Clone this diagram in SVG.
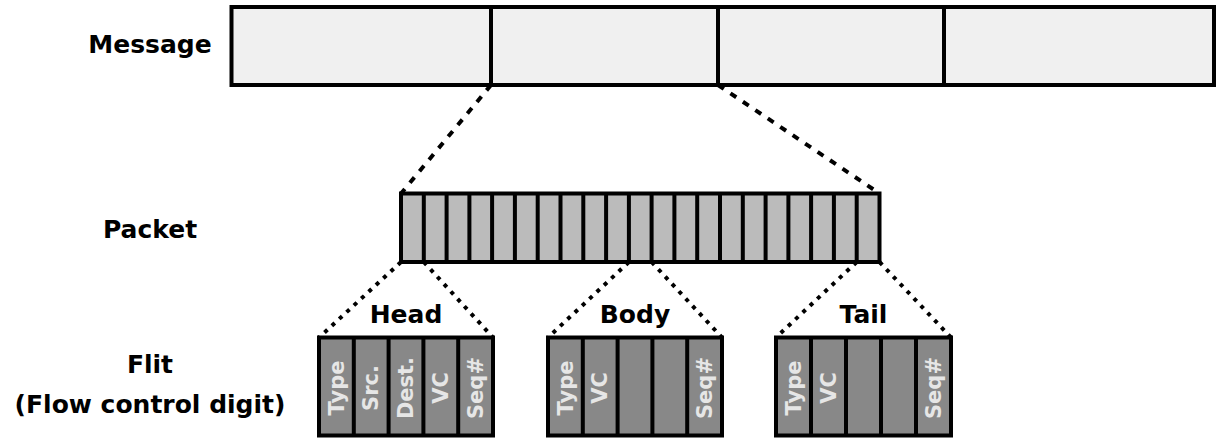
<svg xmlns="http://www.w3.org/2000/svg" width="1216" height="440" viewBox="0 0 1216 440">
<style>
.lbl{font-family:"DejaVu Sans",Verdana,sans-serif;font-weight:bold;font-size:25px;fill:#000;text-anchor:middle}
.ft{font-family:"DejaVu Sans",Verdana,sans-serif;font-weight:bold;font-size:21px;fill:#e6e6e6;text-anchor:middle}
.msg{fill:#f0f0f0;stroke:#000;stroke-width:4}
.pkt{fill:#bbbbbb;stroke:#000;stroke-width:4}
.flit{fill:#888888;stroke:#000;stroke-width:4}
.div{stroke:#000;stroke-width:4;fill:none}
.dash{stroke:#000;stroke-width:4;fill:none;stroke-dasharray:7 8}
.dot{stroke:#000;stroke-width:4;fill:none;stroke-dasharray:4 6}
</style>
<g id="labels">
<text class="lbl" x="150" y="53">Message</text>
<text class="lbl" x="150" y="238">Packet</text>
<text class="lbl" x="150" y="373">Flit</text>
<text class="lbl" x="150" y="413">(Flow control digit)</text>
</g>
<g id="message">
<rect class="msg" x="231.5" y="7" width="982.5" height="78"/>
<path class="div" d="M491 7V85M718 7V85M944 7V85"/>
</g>
<g id="packet">
<rect class="pkt" x="401" y="193.5" width="478.5" height="68.5"/>
<path class="div" d="M423.8 193.5V262M446.6 193.5V262M469.4 193.5V262M492.1 193.5V262M514.9 193.5V262M537.7 193.5V262M560.5 193.5V262M583.3 193.5V262M606.1 193.5V262M628.9 193.5V262M651.6 193.5V262M674.4 193.5V262M697.2 193.5V262M720 193.5V262M742.8 193.5V262M765.6 193.5V262M788.4 193.5V262M811.1 193.5V262M833.9 193.5V262M856.7 193.5V262"/>
</g>
<g id="connectors">
<path class="dash" d="M491 85L401 193.5"/>
<path class="dash" d="M718 85L879.5 193.5"/>
<path class="dot" d="M401 262L319 337.5"/>
<path class="dot" d="M423.8 262L493 337.5"/>
<path class="dot" d="M628.9 262L548 337.5"/>
<path class="dot" d="M651.6 262L722 337.5"/>
<path class="dot" d="M856.7 262L776 337.5"/>
<path class="dot" d="M879.5 262L951 337.5"/>
</g>
<g id="head">
<text class="lbl" x="406" y="323">Head</text>
<rect class="flit" x="319" y="337.5" width="174" height="98"/>
<path class="div" d="M353.8 337.5V435.5M388.6 337.5V435.5M423.4 337.5V435.5M458.2 337.5V435.5"/>
<text class="ft" transform="translate(343.6,388) rotate(-90)">Type</text>
<text class="ft" transform="translate(378.4,388) rotate(-90)">Src.</text>
<text class="ft" transform="translate(413.2,388) rotate(-90)">Dest.</text>
<text class="ft" transform="translate(448,388) rotate(-90)">VC</text>
<text class="ft" transform="translate(482.8,388) rotate(-90)">Seq#</text>
</g>
<g id="body">
<text class="lbl" x="635" y="323">Body</text>
<rect class="flit" x="548" y="337.5" width="174" height="98"/>
<path class="div" d="M582.8 337.5V435.5M617.6 337.5V435.5M652.4 337.5V435.5M687.2 337.5V435.5"/>
<text class="ft" transform="translate(572.6,388) rotate(-90)">Type</text>
<text class="ft" transform="translate(607.4,388) rotate(-90)">VC</text>
<text class="ft" transform="translate(711.8,388) rotate(-90)">Seq#</text>
</g>
<g id="tail">
<text class="lbl" x="863.5" y="323">Tail</text>
<rect class="flit" x="776" y="337.5" width="175" height="98"/>
<path class="div" d="M811 337.5V435.5M846 337.5V435.5M881 337.5V435.5M916 337.5V435.5"/>
<text class="ft" transform="translate(800.7,388) rotate(-90)">Type</text>
<text class="ft" transform="translate(835.7,388) rotate(-90)">VC</text>
<text class="ft" transform="translate(940.7,388) rotate(-90)">Seq#</text>
</g>
</svg>
